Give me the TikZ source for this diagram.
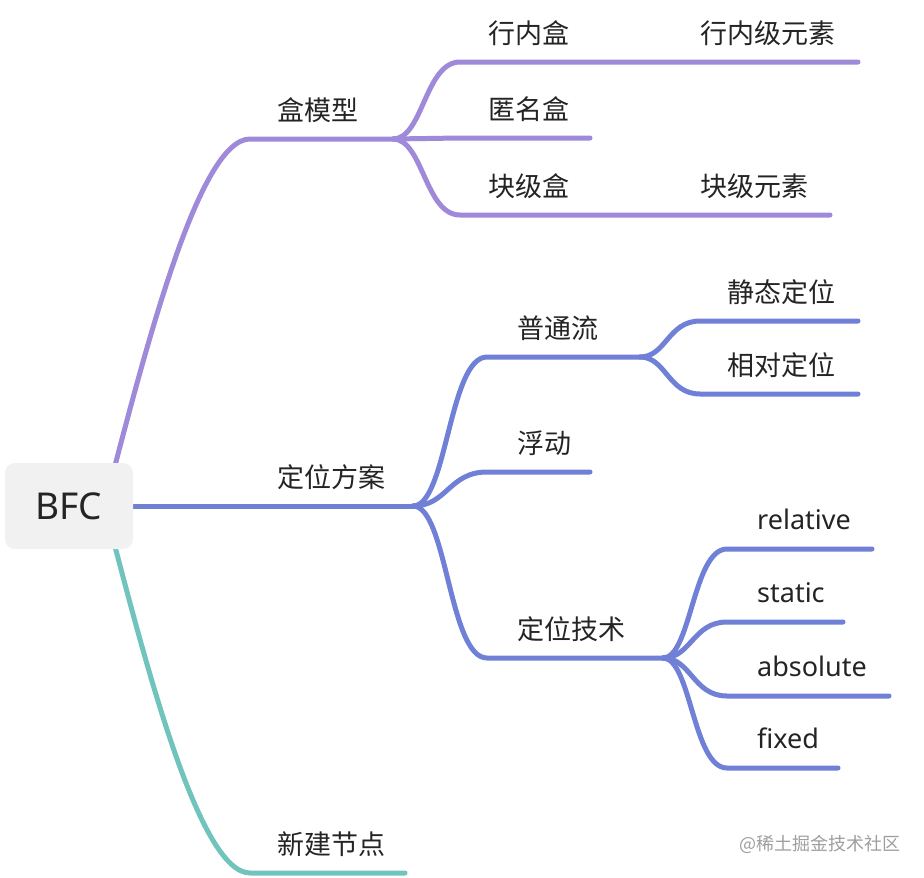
\documentclass[tikz,border=0pt]{standalone}
\usepackage{fontspec}
\setmainfont{Noto Sans}
\newfontfamily\cjk{Noto Sans CJK SC}
\usetikzlibrary{positioning,backgrounds}
\definecolor{mmpurple}{HTML}{9F89D9}
\definecolor{mmblue}{HTML}{6F80D6}
\definecolor{mmteal}{HTML}{71C4BE}
\definecolor{rootfill}{HTML}{F0F1F0}
\definecolor{inktext}{HTML}{242424}

\begin{document}
\begin{tikzpicture}[
    x=1pt, y=-1pt,
    root/.style={fill=rootfill, rounded corners=10pt, minimum width=128pt, minimum height=86pt, inner sep=0pt, font=\fontsize{37}{44}\selectfont, text=inktext},
    topic/.style={anchor=base west, inner sep=0pt, font=\cjk\fontsize{27}{32}\selectfont, text=inktext},
    latin/.style={topic, font=\fontsize{27}{32}\selectfont},
    branch/.style={line width=5pt, line cap=round, line join=round},
    watermark/.style={anchor=base west, inner sep=0pt, font=\cjk\fontsize{18}{22}\selectfont, text=black!38}
]
\useasboundingbox (0,0) rectangle (924,878);

% Root
\node[root] (bfc) at (69,506) {BFC};

% Underline ends
\coordinate (hmx-a) at (250,139);  \coordinate (hmx-b) at (393,139);
\coordinate (hnh-a) at (460,62);   \coordinate (hnh-b) at (672,62);   \coordinate (hnys-b) at (858,62);
\coordinate (nmh-a) at (460,138);  \coordinate (nmh-b) at (590,138);
\coordinate (kjh-a) at (460,215);  \coordinate (kjh-b) at (672,215);  \coordinate (kjys-b) at (830,215);
\coordinate (dwfa-b) at (413,506);
\coordinate (ptl-a) at (487,357);  \coordinate (ptl-b) at (640,357);
\coordinate (fd-a) at (487,472);   \coordinate (fd-b) at (590,472);
\coordinate (dwjs-a) at (487,658); \coordinate (dwjs-b) at (663,658);
\coordinate (jtdw-a) at (700,321); \coordinate (jtdw-b) at (858,321);
\coordinate (xddw-a) at (700,394); \coordinate (xddw-b) at (858,394);
\coordinate (rel-a) at (727,549);  \coordinate (rel-b) at (872,549);
\coordinate (sta-a) at (727,622);  \coordinate (sta-b) at (843,622);
\coordinate (abs-a) at (727,696);  \coordinate (abs-b) at (889,696);
\coordinate (fix-a) at (727,768);  \coordinate (fix-b) at (838,768);
\coordinate (xjjd-a) at (250,873); \coordinate (xjjd-b) at (405,873);

% Labels
\node[topic] (hmx) at (277,120) {盒模型};
\node[topic] (hnh) at (488,43) {行内盒};
\node[topic] (hnys) at (700,43) {行内级元素};
\node[topic] (nmh) at (488,119) {匿名盒};
\node[topic] (kjh) at (488,196) {块级盒};
\node[topic] (kjys) at (700,196) {块级元素};
\node[topic] (dwfa) at (277,487) {定位方案};
\node[topic] (ptl) at (517,338) {普通流};
\node[topic] (jtdw) at (727,302) {静态定位};
\node[topic] (xddw) at (727,375) {相对定位};
\node[topic] (fd) at (517,453) {浮动};
\node[topic] (dwjs) at (517,639) {定位技术};
\node[latin] (rel) at (757,529) {relative};
\node[latin] (sta) at (757,602) {static};
\node[latin] (abs) at (757,676) {absolute};
\node[latin] (fix) at (757,748) {fixed};
\node[topic] (xjjd) at (277,854) {新建节点};
\node[watermark] (wm) at (739,850) {@稀土掘金技术社区};

\begin{scope}[on background layer]
% Box model branch
\draw[branch, mmpurple] ([shift={(-22,-26)}]bfc.east) .. controls (148,340) and (200,139) .. (hmx-a) -- (hmx-b);
\draw[branch, mmpurple] (hmx-b) .. controls +(30,0) and +(-35,0) .. (hnh-a) -- (hnh-b) -- (hnys-b);
\draw[branch, mmpurple] (hmx-b) -- (nmh-a) -- (nmh-b);
\draw[branch, mmpurple] (hmx-b) .. controls +(30,0) and +(-35,0) .. (kjh-a) -- (kjh-b) -- (kjys-b);

% Positioning branch
\draw[branch, mmblue] (bfc.east) -- (dwfa-b);
\draw[branch, mmblue] (dwfa-b) .. controls +(34,0) and +(-38,0) .. (ptl-a) -- (ptl-b);
\draw[branch, mmblue] (dwfa-b) .. controls +(34,0) and +(-38,0) .. (fd-a) -- (fd-b);
\draw[branch, mmblue] (dwfa-b) .. controls +(34,0) and +(-38,0) .. (dwjs-a) -- (dwjs-b);
\draw[branch, mmblue] (ptl-b) .. controls +(26,0) and +(-32,0) .. (jtdw-a) -- (jtdw-b);
\draw[branch, mmblue] (ptl-b) .. controls +(26,0) and +(-32,0) .. (xddw-a) -- (xddw-b);
\draw[branch, mmblue] (dwjs-b) .. controls +(28,0) and +(-34,0) .. (rel-a) -- (rel-b);
\draw[branch, mmblue] (dwjs-b) .. controls +(28,0) and +(-34,0) .. (sta-a) -- (sta-b);
\draw[branch, mmblue] (dwjs-b) .. controls +(28,0) and +(-34,0) .. (abs-a) -- (abs-b);
\draw[branch, mmblue] (dwjs-b) .. controls +(28,0) and +(-34,0) .. (fix-a) -- (fix-b);

% New node branch
\draw[branch, mmteal] ([shift={(-22,26)}]bfc.east) .. controls (148,672) and (200,873) .. (xjjd-a) -- (xjjd-b);
\end{scope}
\end{tikzpicture}
\end{document}
